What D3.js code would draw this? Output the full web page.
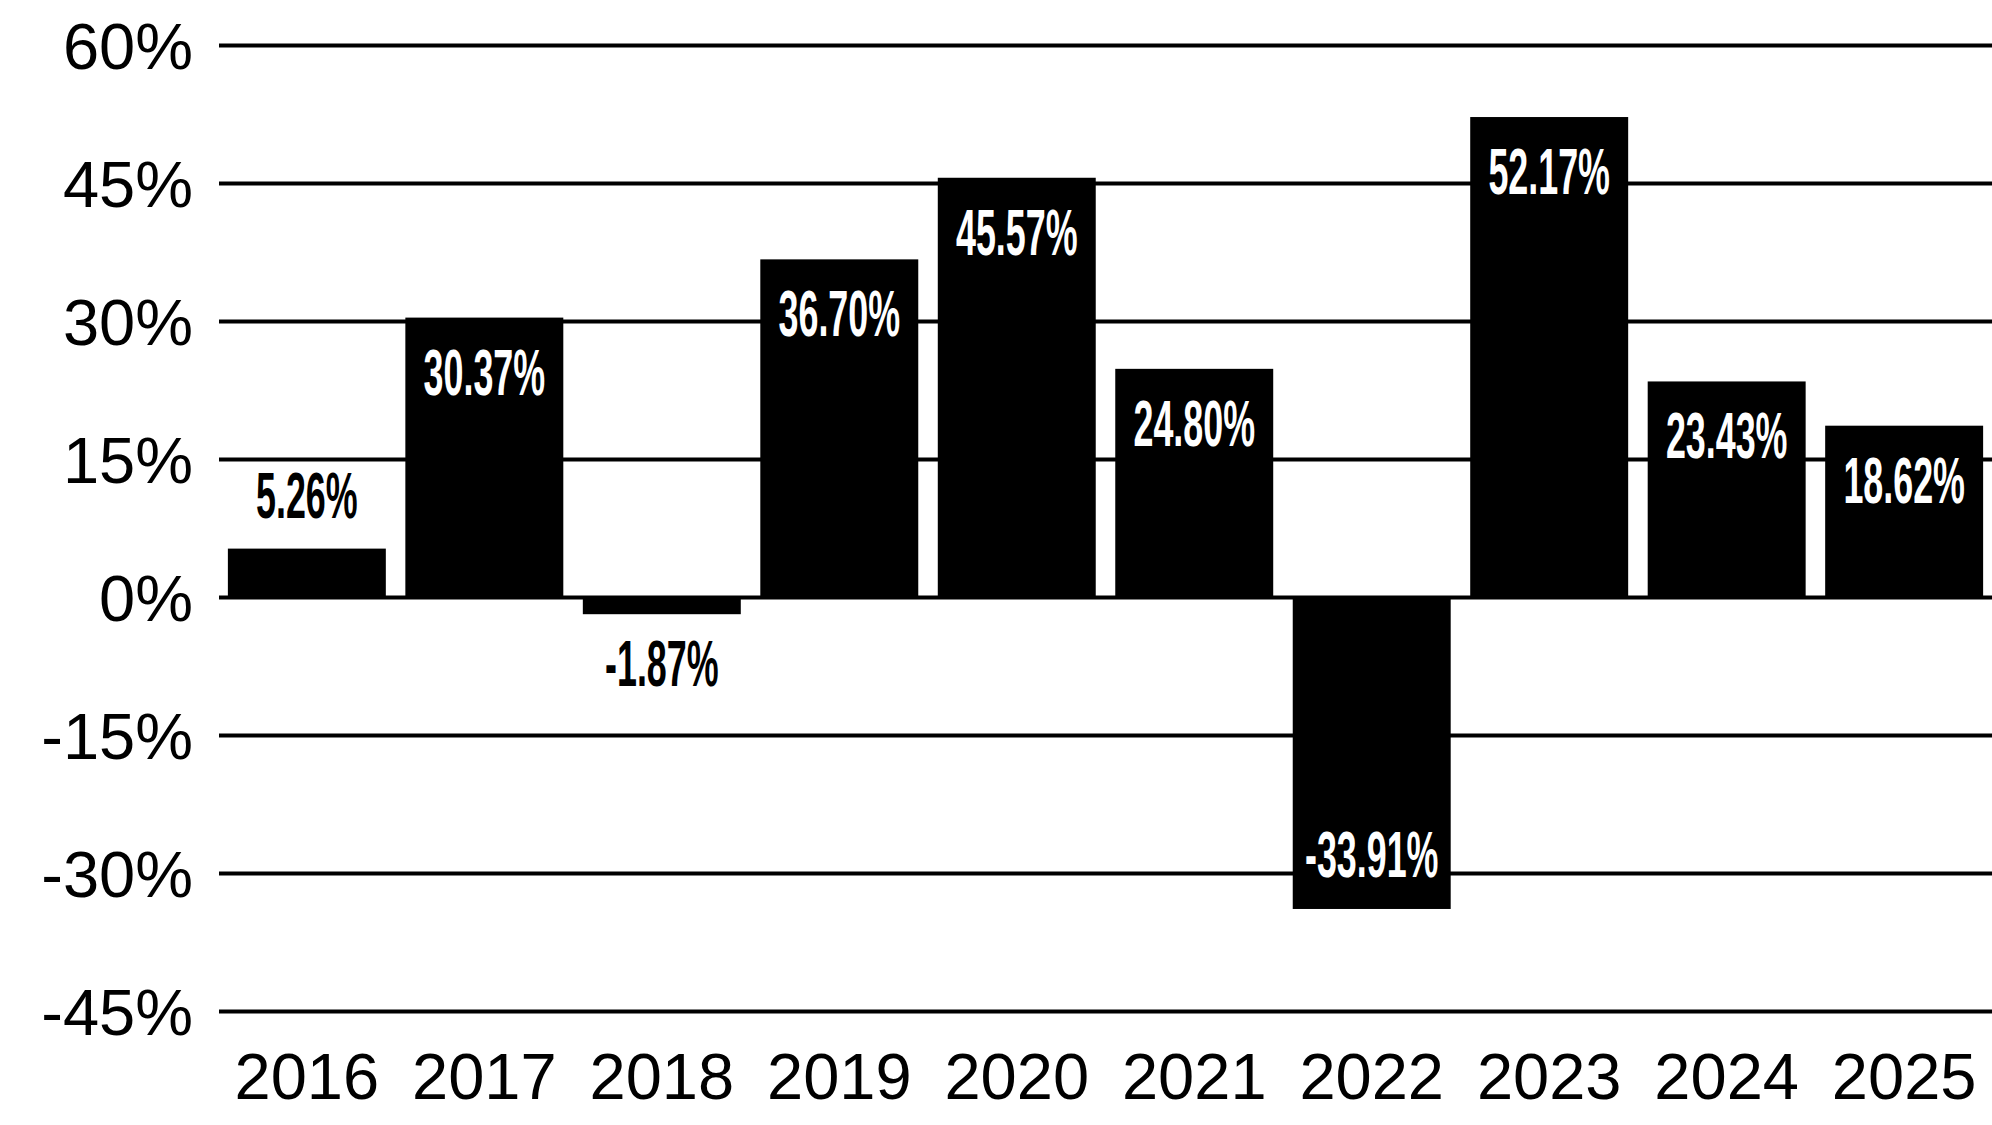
<!DOCTYPE html>
<html>
<head>
<meta charset="utf-8">
<script src="https://cdn.jsdelivr.net/npm/d3@7"></script>
<style>
  html, body { margin: 0; padding: 0; background: #ffffff; }
  svg { display: block; }
</style>
</head>
<body>
<svg id="chart" width="1992" height="1125"></svg>
<script>
const years = ["2016", "2017", "2018", "2019", "2020", "2021", "2022", "2023", "2024", "2025"];
const returns = [5.26, 30.37, -1.87, 36.70, 45.57, 24.80, -33.91, 52.17, 23.43, 18.62];
const valueLabels = ["5.26%", "30.37%", "-1.87%", "36.70%", "45.57%", "24.80%", "-33.91%", "52.17%", "23.43%", "18.62%"];
const yTicks = [-45, -30, -15, 0, 15, 30, 45, 60];
const yTickLabels = ["-45%", "-30%", "-15%", "0%", "15%", "30%", "45%", "60%"];

(function () {
const W = 1992, H = 1125;
const mLeft = 219, mRight = 1992, mTop = 45, mBottom = 1011;

const svg = d3.select("#chart");
svg.append("rect").attr("width", W).attr("height", H).attr("fill", "#fff");

const x = d3.scaleBand().domain(years).range([mLeft, mRight]).paddingInner(0.11).paddingOuter(0.05);
const y = d3.scaleLinear().domain([-45, 60]).range([mBottom, mTop]);

// grid + y labels
const yAxis = d3.axisLeft(y)
  .tickValues(yTicks)
  .tickSize(-(mRight - mLeft))
  .tickPadding(26)
  .tickFormat(d => yTickLabels[yTicks.indexOf(d)]);
const gy = svg.append("g").attr("transform", `translate(${mLeft},0)`).call(yAxis);
gy.select(".domain").remove();
gy.selectAll(".tick line").attr("stroke", "#000").attr("stroke-width", 4);
gy.selectAll(".tick text")
  .attr("fill", "#000")
  .attr("font-family", "'Liberation Sans', Arial, sans-serif")
  .attr("font-size", 65)
  .attr("dy", null)
  .attr("y", 23);

// x labels
const xAxis = d3.axisBottom(x).tickSize(0).tickPadding(0);
const gx = svg.append("g").attr("transform", `translate(0,${mBottom})`).call(xAxis);
gx.select(".domain").remove();
gx.selectAll(".tick text")
  .attr("fill", "#000")
  .attr("font-family", "'Liberation Sans', Arial, sans-serif")
  .attr("font-size", 65)
  .attr("dy", null)
  .attr("y", 88);

// bars
const data = years.map((yr, i) => ({ year: yr, v: returns[i], label: valueLabels[i] }));
svg.append("g").selectAll("rect").data(data).join("rect")
  .attr("x", d => x(d.year))
  .attr("width", x.bandwidth())
  .attr("y", d => y(Math.max(0, d.v)))
  .attr("height", d => Math.abs(y(d.v) - y(0)))
  .attr("fill", "#000");

// value labels
function labelPos(d) {
  if (d.v >= 10) return { by: y(d.v) + 77, fill: "#fff" };
  if (d.v > 0) return { by: y(d.v) - 31, fill: "#000" };
  if (d.v > -10) return { by: y(d.v) + 72, fill: "#000" };
  return { by: y(d.v) - 32, fill: "#fff" };
}
svg.append("g").selectAll("text").data(data).join("text")
  .attr("transform", d => `translate(${x(d.year) + x.bandwidth() / 2},${labelPos(d).by}) scale(0.56,1)`)
  .attr("text-anchor", "middle")
  .attr("font-family", "'Liberation Sans Narrow', 'Liberation Sans', Arial, sans-serif")
  .attr("font-weight", "bold")
  .attr("font-size", 64)
  .attr("fill", d => labelPos(d).fill)
  .text(d => d.label);
})();
</script>
</body>
</html>
